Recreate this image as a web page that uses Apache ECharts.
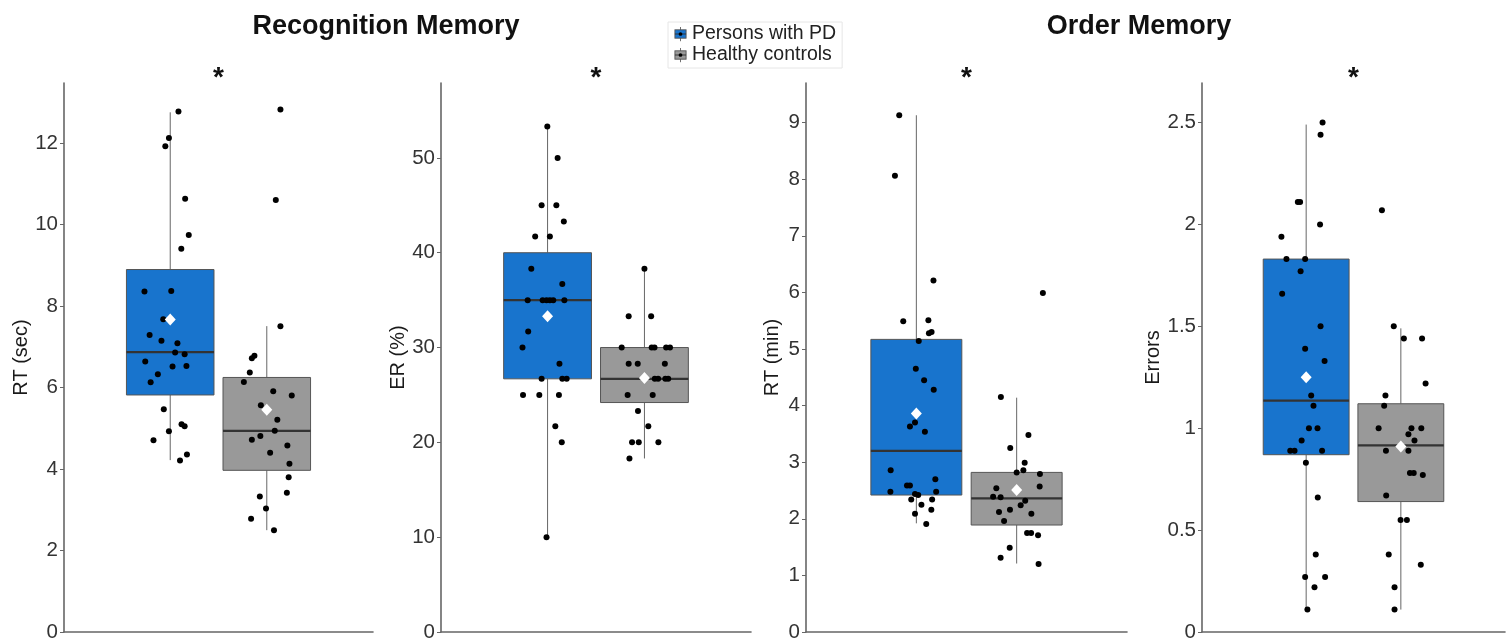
<!DOCTYPE html>
<html>
<head>
<meta charset="utf-8">
<script src="https://cdn.jsdelivr.net/npm/echarts@6/dist/echarts.min.js"></script>
<style>
  html, body { margin: 0; padding: 0; background: #fff; }
  #main { width: 1510px; height: 644px; }
</style>
</head>
<body>
<div id="main"></div>
<script>
// groups
const groupNames = ['Persons with PD', 'Healthy controls'];
const groupColors = ['#1874cd', '#999999'];
const groupPos = [0.8125, 1.1875];   // dodged position on the x axis (0.4 .. 1.6)

// panels
const panelTitles = ['Recognition Memory', 'Order Memory'];
const yNames = ['RT (sec)', 'ER (%)', 'RT (min)', 'Errors'];
const yMax = [13.48, 57.9, 9.7, 2.694];
const yStep = [2, 10, 1, 0.5];

// box stats [min, q1, median, q3, max] per panel: [PD, HC]
const boxStats = [
  [[4.22, 5.82, 6.87, 8.90, 12.76], [2.50, 3.97, 4.94, 6.25, 7.51]],
  [[10.0, 26.7, 35.0, 40.0, 53.3], [18.3, 24.2, 26.7, 30.0, 38.3]],
  [[1.92, 2.42, 3.20, 5.17, 9.13], [1.21, 1.89, 2.36, 2.82, 4.14]],
  [[0.11, 0.87, 1.135, 1.83, 2.49], [0.11, 0.64, 0.916, 1.12, 1.49]]
];
// group means (white diamonds)
const means = [[7.67, 5.46], [33.3, 26.8], [3.86, 2.51], [1.25, 0.91]];

// individual subjects: values and horizontal jitter
const recRtPd = [12.78, 12.13, 11.93, 10.64, 9.75, 9.41, 8.36, 8.37, 7.68, 7.29, 7.15, 7.09, 6.86, 6.82, 6.64, 6.33, 6.52, 6.53, 6.13, 5.47, 5.10, 5.05, 4.93, 4.71, 4.36, 4.21];
const recRtPdJit = [0.032, -0.005, -0.019, 0.058, 0.072, 0.043, -0.100, 0.004, -0.027, -0.080, -0.034, 0.028, 0.019, 0.056, -0.097, -0.048, 0.009, 0.063, -0.076, -0.025, 0.044, 0.056, -0.005, -0.065, 0.065, 0.038];
const recRtHc = [12.83, 10.61, 7.51, 6.78, 6.72, 6.37, 6.14, 5.91, 5.81, 5.57, 5.21, 4.94, 4.81, 4.72, 4.58, 4.40, 4.13, 3.80, 3.42, 3.33, 3.03, 2.78, 2.50];
const recRtHcJit = [0.053, 0.035, 0.053, -0.048, -0.058, -0.066, -0.089, 0.025, 0.097, -0.023, 0.041, 0.031, -0.025, -0.058, 0.080, 0.013, 0.088, 0.085, 0.078, -0.027, -0.003, -0.061, 0.028];

const recErPd = [53.3, 50.0, 45.0, 45.0, 43.3, 41.7, 41.7, 38.3, 36.7, 35.0, 35.0, 35.0, 35.0, 35.0, 35.0, 31.7, 30.0, 28.3, 26.7, 26.7, 26.7, 25.0, 25.0, 25.0, 21.7, 20.0, 10.0];
const recErPdJit = [-0.001, 0.039, -0.023, 0.034, 0.063, -0.048, 0.009, -0.063, 0.057, -0.077, -0.019, -0.004, 0.009, 0.022, 0.065, -0.075, -0.097, 0.046, -0.023, 0.057, 0.074, -0.095, -0.032, 0.044, 0.030, 0.055, -0.004];
const recErHc = [38.3, 33.3, 33.3, 30.0, 30.0, 30.0, 30.0, 30.0, 28.3, 28.3, 28.3, 26.7, 26.7, 26.7, 26.7, 25.0, 25.0, 23.3, 21.7, 20.0, 20.0, 20.0, 18.3];
const recErHcJit = [0, -0.061, 0.026, -0.088, 0.028, 0.039, 0.084, 0.099, -0.061, -0.026, 0.079, 0.040, 0.053, 0.081, 0.092, -0.065, 0.032, -0.025, 0.015, -0.048, -0.022, 0.054, -0.058];

const ordRtPd = [9.13, 8.06, 6.21, 5.49, 5.51, 5.28, 5.30, 5.14, 4.65, 4.45, 4.28, 3.70, 3.63, 3.54, 2.86, 2.70, 2.59, 2.59, 2.48, 2.48, 2.44, 2.42, 2.34, 2.34, 2.25, 2.16, 2.09, 1.91];
const ordRtPdJit = [-0.064, -0.080, 0.064, -0.049, 0.045, 0.047, 0.057, 0.009, -0.002, 0.029, 0.065, -0.005, -0.024, 0.032, -0.096, 0.071, -0.035, -0.024, -0.097, 0.074, -0.005, 0.007, -0.019, 0.059, 0.019, 0.056, -0.005, 0.037];
const ordRtHc = [5.99, 4.15, 3.48, 3.25, 2.99, 2.82, 2.86, 2.79, 2.54, 2.57, 2.39, 2.38, 2.32, 2.24, 2.16, 2.12, 2.09, 1.96, 1.75, 1.75, 1.71, 1.49, 1.31, 1.20];
const ordRtHcJit = [0.098, -0.059, 0.044, -0.024, 0.030, 0, 0.025, 0.087, -0.076, 0.086, -0.088, -0.060, 0.032, 0.015, -0.025, -0.066, 0.055, -0.047, 0.039, 0.054, 0.080, -0.026, -0.060, 0.082];

const ordErrPd = [2.50, 2.44, 2.11, 2.11, 2.00, 1.94, 1.83, 1.83, 1.77, 1.66, 1.50, 1.39, 1.33, 1.16, 1.11, 1.00, 1.00, 0.94, 0.89, 0.89, 0.89, 0.83, 0.66, 0.38, 0.27, 0.27, 0.22, 0.11];
const ordErrPdJit = [0.065, 0.057, -0.033, -0.024, 0.055, -0.098, -0.078, -0.004, -0.022, -0.095, 0.057, -0.004, 0.073, 0.020, 0.029, 0.011, 0.045, -0.018, -0.063, -0.046, 0.063, -0.001, 0.046, 0.038, -0.004, 0.075, 0.033, 0.005];
const ordErrHc = [2.07, 1.50, 1.44, 1.44, 1.22, 1.16, 1.11, 1.00, 1.00, 1.00, 0.97, 0.94, 0.89, 0.89, 0.78, 0.78, 0.77, 0.67, 0.55, 0.55, 0.38, 0.33, 0.22, 0.11];
const ordErrHcJit = [-0.075, -0.028, 0.012, 0.084, 0.098, -0.061, -0.066, -0.088, 0.042, 0.081, 0.030, 0.054, -0.059, 0.030, 0.036, 0.051, 0.087, -0.058, -0.001, 0.024, -0.048, 0.079, -0.025, -0.025];

const points = [
  [[recRtPd, recRtPdJit], [recRtHc, recRtHcJit]],
  [[recErPd, recErPdJit], [recErHc, recErHcJit]],
  [[ordRtPd, ordRtPdJit], [ordRtHc, ordRtHcJit]],
  [[ordErrPd, ordErrPdJit], [ordErrHc, ordErrHcJit]]
];

// layout of the four plots
const gridBox = [
  { left: 64, width: 309 },
  { left: 441, width: 310 },
  { left: 806, width: 321 },
  { left: 1202, width: 303 }
];
const nameGaps = [32, 33, 24, 30];
const BOX_W = 0.34;

let myChart = echarts.init(document.getElementById('main'));

// legend key: small boxplot glyph with a dot, like the ggplot key
function keyIcon(color) {
  const svg = "<svg xmlns='http://www.w3.org/2000/svg' width='14' height='16'>" +
    "<line x1='7' y1='0' x2='7' y2='16' stroke='#666' stroke-width='1'/>" +
    "<rect x='1' y='3.5' width='12' height='9' fill='" + color + "' stroke='#555' stroke-width='1'/>" +
    "<line x1='1' y1='8' x2='13' y2='8' stroke='#333' stroke-width='1'/>" +
    "<circle cx='7' cy='8' r='2' fill='#000'/></svg>";
  return 'image://data:image/svg+xml;charset=utf-8,' + encodeURIComponent(svg);
}

// box + whiskers + median, drawn through the axis scales
function renderBox(params, api) {
  const x = api.value(0);
  const lo = api.coord([x, api.value(1)]);
  const q1 = api.coord([x, api.value(2)]);
  const md = api.coord([x, api.value(3)]);
  const q3 = api.coord([x, api.value(4)]);
  const hi = api.coord([x, api.value(5)]);
  const hw = api.size([BOX_W, 0])[0] / 2;
  const whisker = { stroke: '#666666', lineWidth: 1 };
  return {
    type: 'group',
    children: [
      { type: 'line', shape: { x1: lo[0], y1: lo[1], x2: q1[0], y2: q1[1] }, style: whisker },
      { type: 'line', shape: { x1: q3[0], y1: q3[1], x2: hi[0], y2: hi[1] }, style: whisker },
      { type: 'rect', shape: { x: q3[0] - hw, y: q3[1], width: 2 * hw, height: q1[1] - q3[1] },
        style: { fill: api.visual('color'), stroke: '#555555', lineWidth: 1 } },
      { type: 'line', shape: { x1: md[0] - hw, y1: md[1], x2: md[0] + hw, y2: md[1] },
        style: { stroke: '#333333', lineWidth: 2.2 } }
    ]
  };
}

let grids = [], xAxes = [], yAxes = [], series = [], graphics = [];

gridBox.forEach((g, i) => {
  grids.push({ left: g.left, width: g.width, top: 83, bottom: 12 });
  xAxes.push({
    type: 'value', gridIndex: i, min: 0.4, max: 1.6,
    axisLine: { show: true, onZero: false, lineStyle: { color: '#666', width: 1.6 } },
    axisTick: { show: false }, axisLabel: { show: false }, splitLine: { show: false }
  });
  yAxes.push({
    type: 'value', gridIndex: i, min: 0, max: yMax[i], interval: yStep[i],
    name: yNames[i], nameLocation: 'middle', nameGap: nameGaps[i],
    nameTextStyle: { fontSize: 20, color: '#1a1a1a', fontFamily: 'Liberation Sans' },
    axisLine: { show: true, lineStyle: { color: '#666', width: 1.6 } },
    axisTick: { show: true, length: 4, lineStyle: { color: '#666' } },
    axisLabel: { fontSize: 20.5, color: '#333', margin: 6, showMaxLabel: false, fontFamily: 'Liberation Sans' },
    splitLine: { show: false }
  });

  groupNames.forEach((name, k) => {
    series.push({
      name: name, type: 'custom', xAxisIndex: i, yAxisIndex: i,
      renderItem: renderBox, z: 2,
      itemStyle: { color: groupColors[k] },
      encode: { x: 0, y: [1, 2, 3, 4, 5] },
      data: [[groupPos[k]].concat(boxStats[i][k])]
    });
  });

  groupNames.forEach((name, k) => {
    const vals = points[i][k][0], jit = points[i][k][1];
    series.push({
      name: 'subjects', type: 'scatter', xAxisIndex: i, yAxisIndex: i, z: 3,
      symbolSize: 6, itemStyle: { color: '#000', opacity: 1 }, silent: true,
      data: vals.map((v, j) => [groupPos[k] + jit[j], v])
    });
  });

  series.push({
    name: 'mean', type: 'scatter', xAxisIndex: i, yAxisIndex: i, z: 4,
    symbol: 'diamond', symbolSize: [11, 12], itemStyle: { color: '#fff', opacity: 1 }, silent: true,
    data: groupPos.map((p, k) => [p, means[i][k]])
  });

  // significance star above each plot
  graphics.push({
    type: 'text', x: g.left + g.width / 2, y: 78,
    style: { text: '*', font: 'bold 28px "Liberation Sans"', fill: '#111', align: 'center', verticalAlign: 'middle' }
  });
});

let option = {
  backgroundColor: '#fff',
  animation: false,
  title: [
    { text: panelTitles[0], left: 381, top: 8, textAlign: 'center',
      textStyle: { fontSize: 27, fontWeight: 'bold', color: '#111', fontFamily: 'Liberation Sans' } },
    { text: panelTitles[1], left: 1134, top: 8, textAlign: 'center',
      textStyle: { fontSize: 27, fontWeight: 'bold', color: '#111', fontFamily: 'Liberation Sans' } }
  ],
  legend: {
    data: groupNames.map((n, k) => ({ name: n, icon: keyIcon(groupColors[k]) })),
    orient: 'vertical', left: 668, top: 22,
    itemWidth: 13, itemHeight: 15, itemGap: 1,
    padding: [2, 6, 3, 6], borderColor: '#e6e6e6', borderWidth: 1,
    textStyle: { fontSize: 19.5, color: '#222', fontFamily: 'Liberation Sans', lineHeight: 19 }
  },
  grid: grids,
  xAxis: xAxes,
  yAxis: yAxes,
  series: series,
  graphic: graphics
};

myChart.setOption(option);
</script>
</body>
</html>
